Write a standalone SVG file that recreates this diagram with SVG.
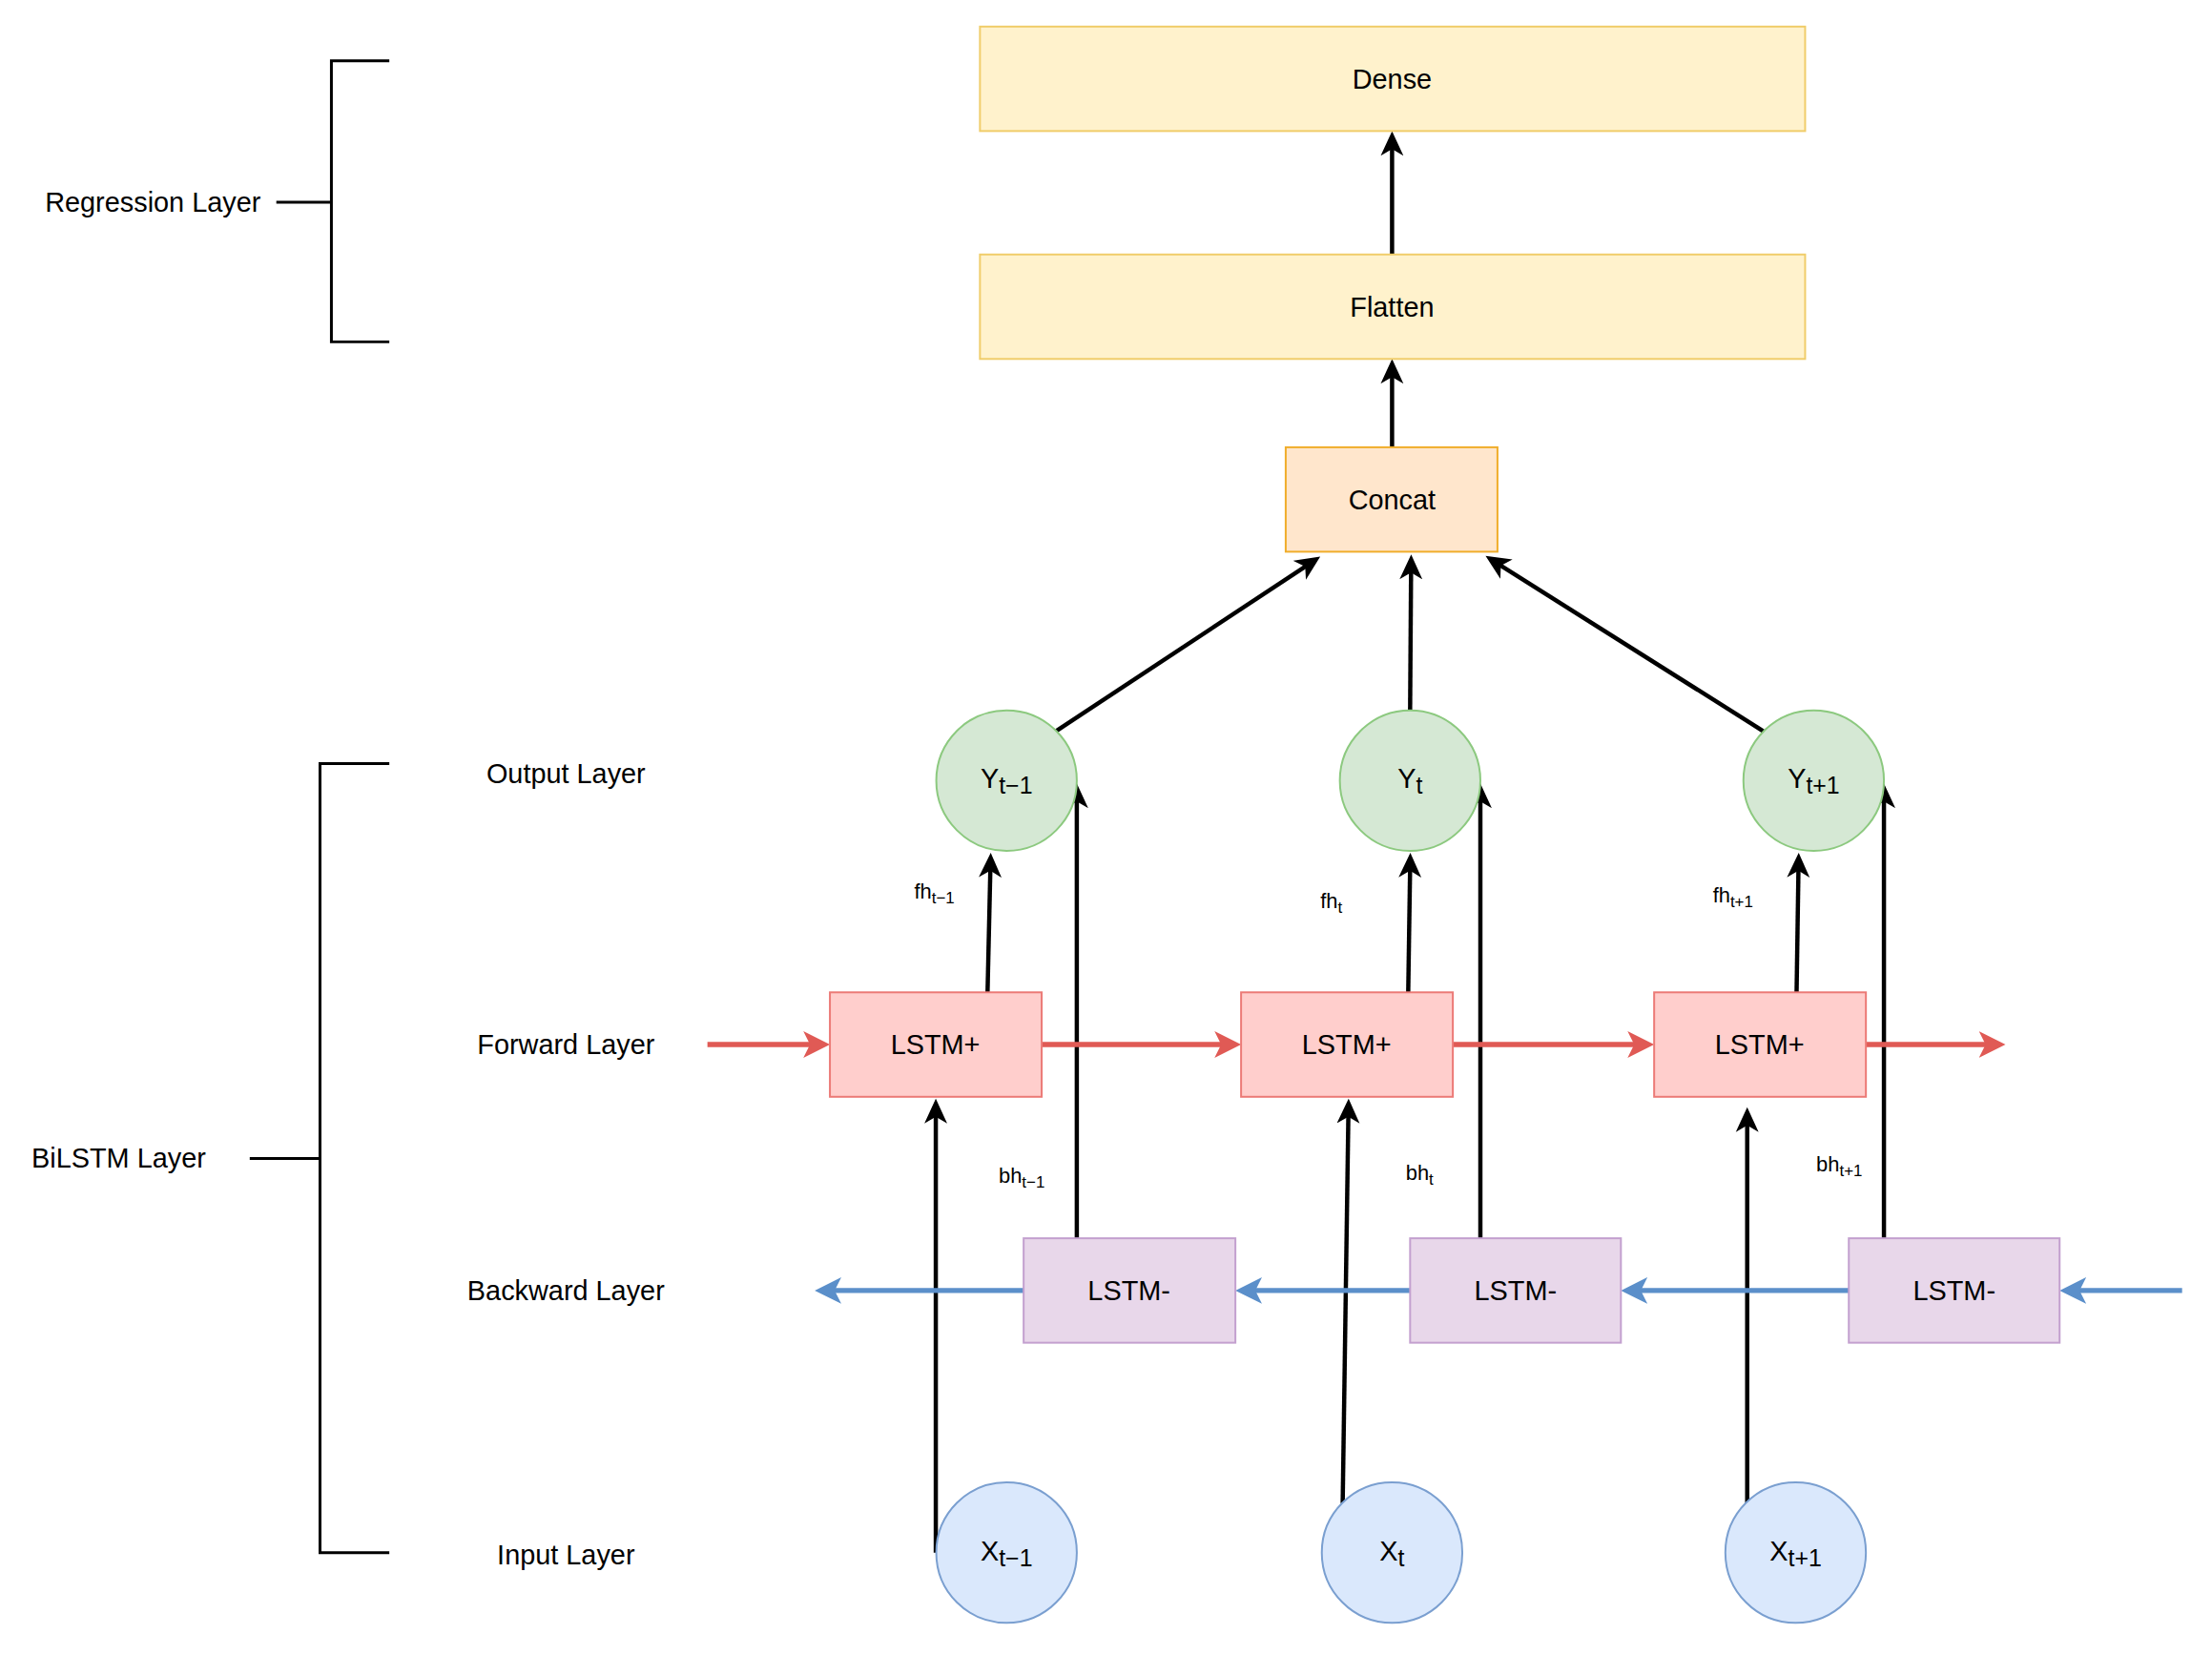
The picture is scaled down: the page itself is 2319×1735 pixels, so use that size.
<svg xmlns="http://www.w3.org/2000/svg" width="2319" height="1735" viewBox="0 0 2319 1735">
<defs>
<marker id="ak" markerUnits="userSpaceOnUse" markerWidth="28" markerHeight="26" refX="10" refY="13" orient="auto"><path d="M0,1 L26,13 L0,25 L7,13 Z" fill="#000"/></marker>
<marker id="ar" markerUnits="userSpaceOnUse" markerWidth="30" markerHeight="30" refX="10" refY="15" orient="auto"><path d="M0,1 L28,15 L0,29 L7,15 Z" fill="#e05a55"/></marker>
<marker id="ab" markerUnits="userSpaceOnUse" markerWidth="30" markerHeight="30" refX="10" refY="15" orient="auto"><path d="M0,1 L28,15 L0,29 L7,15 Z" fill="#5b8fca"/></marker>
</defs>
<style>
text{font-family:"Liberation Sans",Arial,sans-serif;fill:#000;}
.t{font-size:29px;text-anchor:middle;}
.s{font-size:22px;text-anchor:middle;}
.ss{font-size:17px;}
.sub{font-size:25px;}
.yel{fill:#fff2cc;stroke:#f0cd6a;stroke-width:2;}
.org{fill:#ffe6cc;stroke:#f0ad2a;stroke-width:2;}
.red{fill:#ffcecc;stroke:#ec7a76;stroke-width:2;}
.pur{fill:#e8d7ea;stroke:#c3a0cf;stroke-width:2;}
.grn{fill:#d5e8d4;stroke:#8cc97f;stroke-width:2;}
.blu{fill:#dae8fc;stroke:#7a9fd0;stroke-width:2;}
.k{stroke:#000;stroke-width:4.5;fill:none;marker-end:url(#ak);}
.r{stroke:#e05a55;stroke-width:5.5;fill:none;marker-end:url(#ar);}
.b{stroke:#5b8fca;stroke-width:5.5;fill:none;marker-end:url(#ab);}
.br{stroke:#000;stroke-width:3;fill:none;}
</style>
<rect width="2319" height="1735" fill="#fff"/>
<g transform="scale(0.9955)">
<g id="brackets">
<path class="br" d="M410,64 H349 V360 H410 M291,213 H349"/>
<path class="br" d="M410,804 H337 V1635 H410 M263,1220 H337"/>
<text class="t" x="161" y="223">Regression Layer</text>
<text class="t" x="125" y="1230">BiLSTM Layer</text>
<text class="t" x="596" y="825">Output Layer</text>
<text class="t" x="596" y="1110">Forward Layer</text>
<text class="t" x="596" y="1369">Backward Layer</text>
<text class="t" x="596" y="1647">Input Layer</text>
</g>
<g id="connectors">
<path class="k" d="M1466,268 V154"/>
<path class="k" d="M1466,471 V394"/>
<path class="k" d="M1112,770 L1377,595"/>
<path class="k" d="M1485,748 L1486,600"/>
<path class="k" d="M1857,770 L1578,594"/>
<path class="k" d="M1040,1045 L1043,914"/>
<path class="k" d="M1483,1045 L1485,914"/>
<path class="k" d="M1892,1045 L1894,914"/>
<path class="k" d="M1134,1304 V841"/>
<path class="k" d="M1559,1304 V841"/>
<path class="k" d="M1984,1304 V841"/>
<path class="k" d="M985.5,1635 V1173"/>
<path class="k" d="M1414,1583 L1420,1173"/>
<path class="k" d="M1840,1583 V1182"/>
<path class="r" d="M745,1100 H856"/>
<path class="r" d="M1097,1100 H1289"/>
<path class="r" d="M1530,1100 H1724"/>
<path class="r" d="M1965,1100 H2094"/>
<path class="b" d="M2298,1359 H2187"/>
<path class="b" d="M1947,1359 H1725"/>
<path class="b" d="M1485,1359 H1319"/>
<path class="b" d="M1078,1359 H876"/>
</g>
<g id="dense"><rect class="yel" x="1032" y="28" width="869" height="110"/><text class="t" x="1466" y="93">Dense</text></g>
<g id="flatten"><rect class="yel" x="1032" y="268" width="869" height="110"/><text class="t" x="1466" y="333">Flatten</text></g>
<g id="concat"><rect class="org" x="1354" y="471" width="223" height="110"/><text class="t" x="1466" y="536">Concat</text></g>
<g id="lstmf1"><rect class="red" x="874" y="1045" width="223" height="110"/><text class="t" x="985" y="1110">LSTM+</text></g>
<g id="lstmf2"><rect class="red" x="1307" y="1045" width="223" height="110"/><text class="t" x="1418" y="1110">LSTM+</text></g>
<g id="lstmf3"><rect class="red" x="1742" y="1045" width="223" height="110"/><text class="t" x="1853" y="1110">LSTM+</text></g>
<g id="lstmb1"><rect class="pur" x="1078" y="1304" width="223" height="110"/><text class="t" x="1189" y="1369">LSTM-</text></g>
<g id="lstmb2"><rect class="pur" x="1485" y="1304" width="222" height="110"/><text class="t" x="1596" y="1369">LSTM-</text></g>
<g id="lstmb3"><rect class="pur" x="1947" y="1304" width="222" height="110"/><text class="t" x="2058" y="1369">LSTM-</text></g>
<g id="y1"><circle class="grn" cx="1060" cy="822" r="74"/><text class="t" x="1060" y="830">Y<tspan class="sub" dy="6">t−1</tspan></text></g>
<g id="y2"><circle class="grn" cx="1485" cy="822" r="74"/><text class="t" x="1485" y="830">Y<tspan class="sub" dy="6">t</tspan></text></g>
<g id="y3"><circle class="grn" cx="1910" cy="822" r="74"/><text class="t" x="1910" y="830">Y<tspan class="sub" dy="6">t+1</tspan></text></g>
<g id="x1"><circle class="blu" cx="1060" cy="1635" r="74"/><text class="t" x="1060" y="1643">X<tspan class="sub" dy="6">t−1</tspan></text></g>
<g id="x2"><circle class="blu" cx="1466" cy="1635" r="74"/><text class="t" x="1466" y="1643">X<tspan class="sub" dy="6">t</tspan></text></g>
<g id="x3"><circle class="blu" cx="1891" cy="1635" r="74"/><text class="t" x="1891" y="1643">X<tspan class="sub" dy="6">t+1</tspan></text></g>
<g id="labels">
<text class="s" x="984" y="946">fh<tspan class="ss" dy="5">t−1</tspan></text>
<text class="s" x="1402" y="956">fh<tspan class="ss" dy="5">t</tspan></text>
<text class="s" x="1825" y="950">fh<tspan class="ss" dy="5">t+1</tspan></text>
<text class="s" x="1076" y="1246">bh<tspan class="ss" dy="5">t−1</tspan></text>
<text class="s" x="1495" y="1243">bh<tspan class="ss" dy="5">t</tspan></text>
<text class="s" x="1937" y="1234">bh<tspan class="ss" dy="5">t+1</tspan></text>
</g>
</g>
</svg>
